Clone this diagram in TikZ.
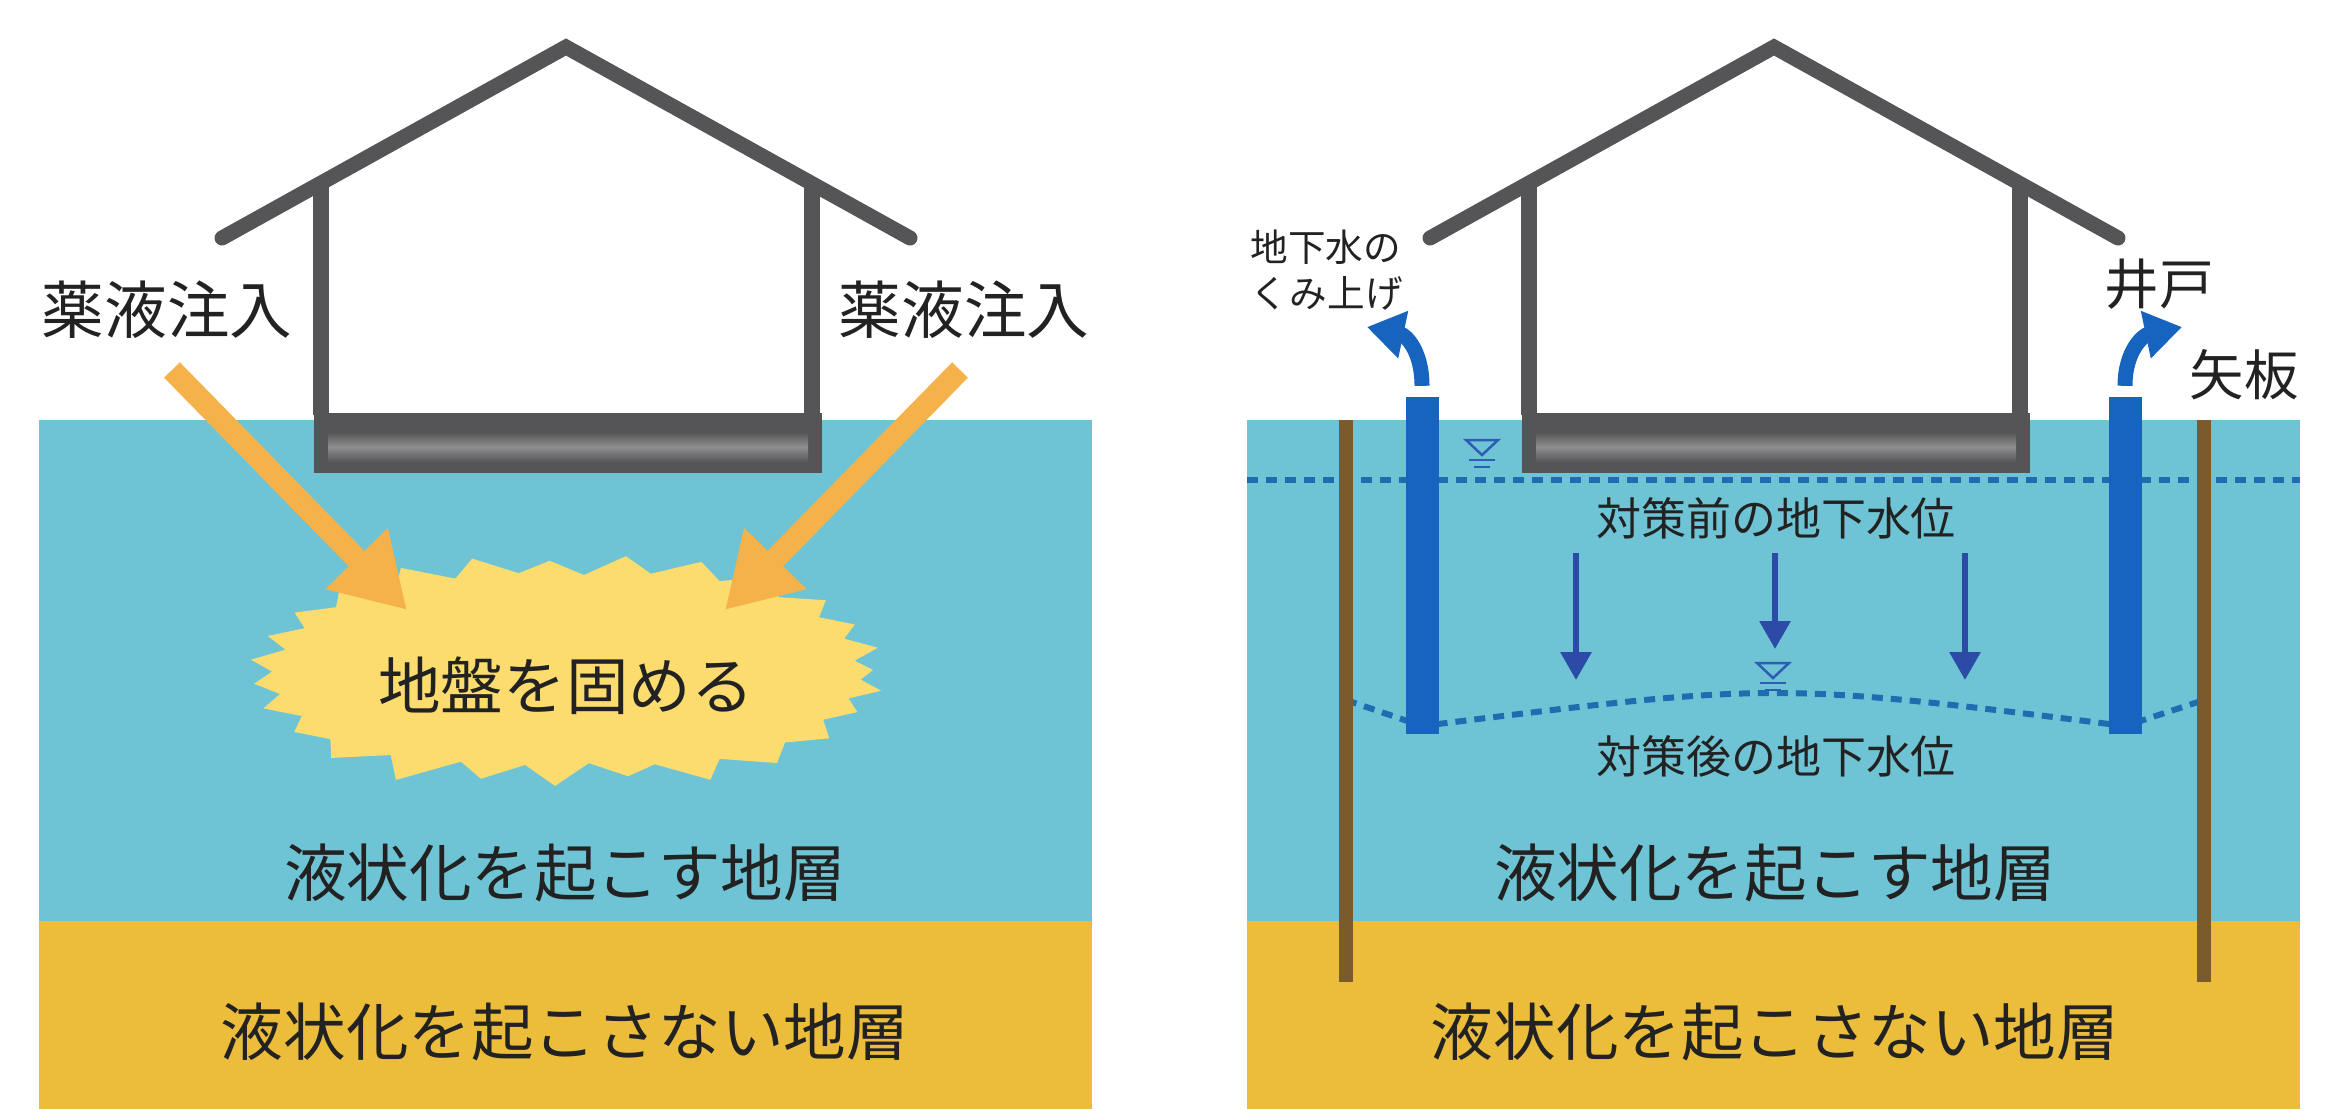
\documentclass[tikz,border=0pt]{standalone}
\usepackage{fontspec}
\newfontfamily\jp{Noto Sans CJK JP}
\usetikzlibrary{arrows.meta}

\definecolor{soil}{HTML}{6EC4D4}
\definecolor{clay}{HTML}{EBBD3B}
\definecolor{house}{HTML}{555557}
\definecolor{slab}{HTML}{8E8E8E}
\definecolor{inject}{HTML}{F5B24A}
\definecolor{gel}{HTML}{FCDC6E}
\definecolor{well}{HTML}{1664BE}
\definecolor{drop}{HTML}{2B4BA6}
\definecolor{level}{HTML}{1E6DB0}
\definecolor{wtmark}{HTML}{2F5CB5}
\definecolor{pile}{HTML}{7B5A2B}
\definecolor{ink}{HTML}{222222}

\tikzset{
    bigtext/.style={
           inner sep=0pt,
           text=ink,
           font=\jp\fontsize{17.8pt}{21pt}\selectfont,
           },
    midtext/.style={
           inner sep=0pt,
           text=ink,
           font=\jp\fontsize{12.8pt}{15pt}\selectfont,
           },
    sidetext/.style={
           inner sep=0pt,
           text=ink,
           font=\jp\fontsize{15.5pt}{18pt}\selectfont,
           },
    smalltext/.style={
           inner sep=0pt,
           text=ink,
           align=left,
           font=\jp\fontsize{10.7pt}{13pt}\selectfont,
           },
    roof/.style={draw=house, line width=1.5mm, line cap=round, line join=miter},
    wall/.style={draw=house, line width=1.6mm},
    injarrow/.style={draw=inject, line width=2.2mm,
           -{Triangle[length=7.2mm, width=8.2mm]}},
    pipe/.style={rectangle, fill=well, inner sep=0pt,
           minimum width=3.3mm, minimum height=33.7mm},
    pump/.style={draw=well, line width=1.5mm,
           -{Triangle[length=3.7mm, width=4.6mm]}},
    droparrow/.style={draw=drop, line width=0.6mm,
           -{Triangle[length=2.8mm, width=3mm]}},
    levelline/.style={draw=level, line width=0.6mm, dash pattern=on 1.1mm off 0.8mm},
    wtsym/.style={draw=wtmark, line width=0.25mm},
}

\begin{document}
\begin{tikzpicture}[x=0.1mm, y=-0.1mm]
    \useasboundingbox (0,0) rectangle (2328,1109);

    % ground layers of both panels
    \foreach \dx in {0,1208} {
        \begin{scope}[shift={(\dx,0)}]
            \fill[soil] (39,420) rectangle (1092,921);
            \fill[clay] (39,921) rectangle (1092,1109);
        \end{scope}
    }

    % ---- left panel: grouting ----
    % solidified zone (lumpy superellipse)
    \fill[gel] (873,670)
        \foreach \a/\f [evaluate=\a as \r using {(abs(cos(\a))^3+abs(sin(\a))^3)^(-1/3)}]
                 in {6/0.96, 12/1.03, 18/0.93, 25/0.98, 32/0.9, 40/1.0,
                     47/0.93, 55/1.08, 62/0.98, 68/1.18, 74/1.0, 80/1.12,
                     86/0.98, 92/1.22, 98/1.0, 104/1.15, 110/0.98, 116/1.2,
                     123/0.97, 130/1.08, 137/0.95, 144/1.0, 151/0.92,
                     158/1.02, 165/0.95, 172/1.03, 179/0.97, 186/1.04,
                     193/0.93, 200/1.0, 207/0.9, 214/0.98, 221/0.9,
                     228/1.0, 236/0.92, 243/1.12, 249/0.98, 255/1.18,
                     261/1.02, 267/1.15, 273/1.0, 279/1.2, 285/1.02,
                     291/1.16, 298/0.98, 305/1.1, 312/0.92, 319/1.0,
                     326/0.9, 333/0.98, 340/0.92, 347/1.02, 354/0.94}
        { -- ({568+305*\f*\r*cos(\a)},{670+95*\f*\r*sin(\a)}) } -- cycle;

    % injection arrows
    \coordinate (srcL) at (172,370);
    \coordinate (dstL) at (407,610);
    \coordinate (srcR) at (960,370);
    \coordinate (dstR) at (725,610);
    \draw[injarrow] (srcL) -- (dstL);
    \draw[injarrow] (srcR) -- (dstR);

    \node[bigtext] (injL) at (167,310) {薬液注入};
    \node[bigtext] (injR) at (964,310) {薬液注入};
    \node[bigtext] (gelTxt) at (566,686) {地盤を固める};
    \node[bigtext] (liqL) at (565,873) {液状化を起こす地層};
    \node[bigtext] (solidL) at (565,1032) {液状化を起こさない地層};

    % ---- right panel: dewatering ----
    % water table before / after
    \draw[levelline] (1247,480) -- (2300,480);
    \draw[levelline] (1346,700) -- (1422,726)
        .. controls (1775,682) .. (2125,726) -- (2204,700);

    % sheet piles
    \fill[pile] (1339,420) rectangle (1353,982);
    \fill[pile] (2197,420) rectangle (2211,982);

    % wells and pumped water
    \node[pipe] (wellL) at (1422,565) {};
    \node[pipe] (wellR) at (2125,565) {};
    \coordinate (outL) at (1367,327);
    \coordinate (outR) at (2182,327);
    \draw[pump] ([yshift=1mm]wellL.north) .. controls +(0,-36) and +(38,8) .. (outL);
    \draw[pump] ([yshift=1mm]wellR.north) .. controls +(0,-36) and +(-38,8) .. (outR);

    % lowering of the water table
    \foreach \x/\y [count=\i] in {1576/680, 1775/649, 1965/680} {
        \coordinate (dropA\i) at (\x,553);
        \coordinate (dropB\i) at (\x,\y);
        \draw[droparrow] (dropA\i) -- (dropB\i);
    }

    % water table marks
    \foreach \sx/\sy in {1482/440, 1773/663} {
        \draw[wtsym] ({\sx-16},\sy) -- ({\sx+16},\sy) -- (\sx,{\sy+15}) -- cycle;
        \draw[wtsym] ({\sx-13},{\sy+20}) -- ({\sx+13},{\sy+20});
        \draw[wtsym] ({\sx-8},{\sy+27}) -- ({\sx+8},{\sy+27});
    }

    \node[smalltext, anchor=west] (pumpTxt) at (1250,270) {地下水の\\くみ上げ};
    \node[sidetext] (wellTxt) at (2159,284) {井戸};
    \node[sidetext] (pileTxt) at (2244,375) {矢板};
    \node[midtext] (beforeTxt) at (1776,518) {対策前の地下水位};
    \node[midtext] (afterTxt) at (1776,756) {対策後の地下水位};
    \node[bigtext] (liqR) at (1775,873) {液状化を起こす地層};
    \node[bigtext] (solidR) at (1775,1032) {液状化を起こさない地層};

    % houses
    \foreach \dx in {0,1208} {
        \begin{scope}[shift={(\dx,0)}]
            \fill[house] (314,413) rectangle (822,473);
            \shade[top color=house, bottom color=house, middle color=slab]
                (328,432) rectangle (808,462);
            \draw[wall] (321,183) -- (321,415);
            \draw[wall] (812,183) -- (812,415);
            \draw[roof] (222,238) -- (566,47) -- (910,238);
        \end{scope}
    }
\end{tikzpicture}
\end{document}
